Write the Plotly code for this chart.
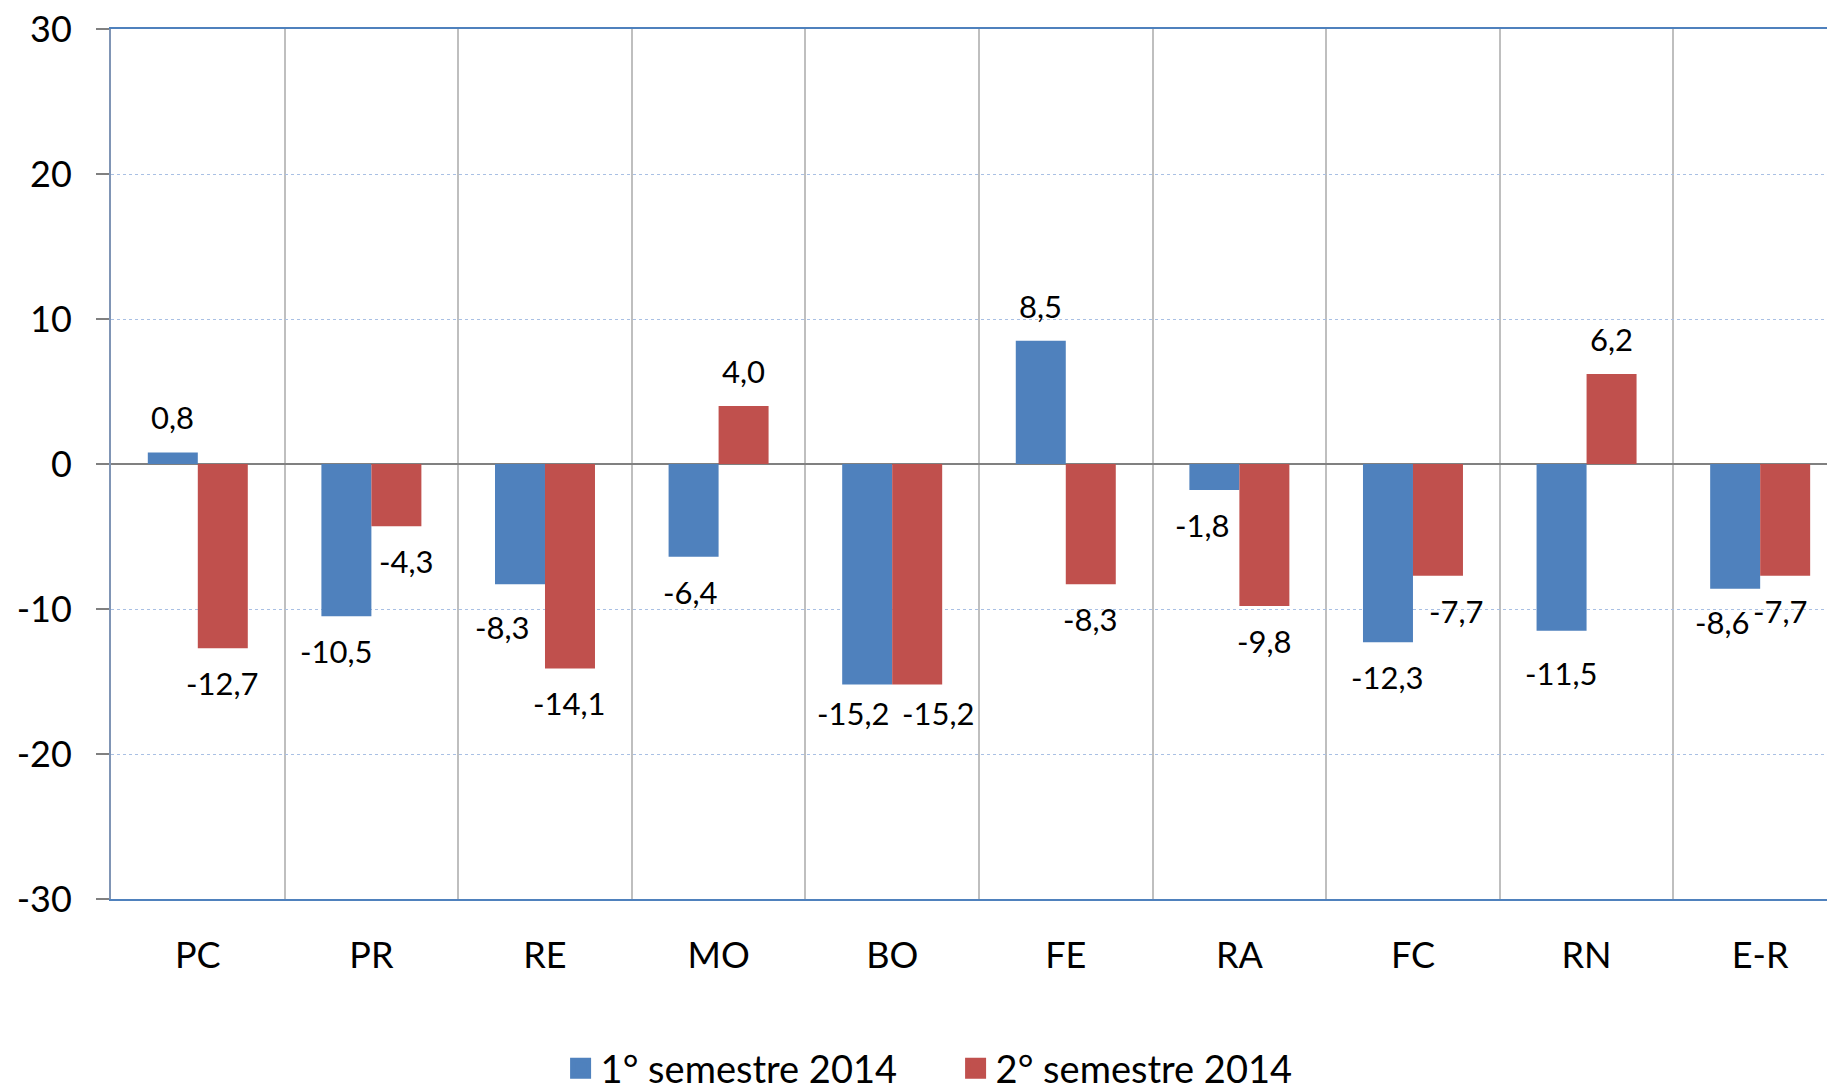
import plotly.graph_objects as go

categories = ["PC", "PR", "RE", "MO", "BO", "FE", "RA", "FC", "RN", "E-R"]
sem1_values = [0.8, -10.5, -8.3, -6.4, -15.2, 8.5, -1.8, -12.3, -11.5, -8.6]
sem2_values = [-12.7, -4.3, -14.1, 4.0, -15.2, -8.3, -9.8, -7.7, 6.2, -7.7]
series_names = ["1° semestre 2014", "2° semestre 2014"]
y_ticks = [-30, -20, -10, 0, 10, 20, 30]

BLUE = "#4F81BD"
RED = "#C0504D"
FONT = "Lato"

# label nudges (px) to mimic the reference's label placement: (series, index) -> (dx, dy)
nudges = {
    (0, 1): (-10, 0), (1, 1): (10, 0),
    (0, 2): (-17, -8),
    (0, 3): (-3, 0),
    (0, 4): (-14, 6), (1, 4): (21, 6),
    (0, 6): (-12, 0),
    (1, 7): (19, 0),
    (0, 8): (0, -7),
    (0, 9): (-13, 2), (1, 9): (-5, 0),
}

bargap = 0.424
half = (1 - bargap) / 4

fig = go.Figure()
for s, (vals, col) in enumerate([(sem1_values, BLUE), (sem2_values, RED)]):
    fig.add_trace(go.Bar(x=categories, y=vals, name=series_names[s], marker_color=col,
                         marker_line_width=0, showlegend=False))

# legend entries with larger square symbols
for name, col in zip(series_names, [BLUE, RED]):
    fig.add_trace(go.Scatter(x=[None], y=[None], mode="markers", name=name,
                             marker=dict(symbol="square", size=16, color=col,
                                         line=dict(color=col, width=7))))

annotations = []
for s, vals in enumerate([sem1_values, sem2_values]):
    for i, v in enumerate(vals):
        dx, dy = nudges.get((s, i), (0, 0))
        base = 35 if v >= 0 else -35
        annotations.append(dict(
            x=i + (-half if s == 0 else half), y=v, xref="x", yref="y",
            text=f"{v:.1f}".replace(".", ","), showarrow=False,
            xshift=dx, yshift=base + dy, yanchor="middle",
            font=dict(family=FONT, size=31, color="black")))

fig.update_layout(
    width=1827, height=1090,
    margin=dict(l=111, r=0, t=29, b=191, autoexpand=False),
    plot_bgcolor="white", paper_bgcolor="white",
    bargap=bargap, bargroupgap=0, barmode="group",
    font=dict(family=FONT, color="black"),
    annotations=annotations,
    legend=dict(orientation="h", x=0.262, y=-0.195, xanchor="left", yanchor="middle",
                font=dict(family=FONT, size=38, color="black"),
                entrywidth=350, entrywidthmode="pixels", bgcolor="rgba(0,0,0,0)",
                itemsizing="trace"),
)

fig.update_xaxes(
    range=[-0.5, 9.385], tickson="boundaries", ticks="",
    showgrid=True, gridcolor="#BFBFBF", gridwidth=2,
    showline=True, linecolor=BLUE, linewidth=2, mirror=True,
    tickfont=dict(family=FONT, size=36, color="black"),
    ticklabelstandoff=24,
)
fig.update_yaxes(
    range=[-30, 30], tickvals=y_ticks, ticktext=[str(t) for t in y_ticks],
    showgrid=True, gridcolor="#A9C0E4", gridwidth=1, griddash="dot",
    zeroline=True, zerolinecolor="#808080", zerolinewidth=2,
    showline=True, linecolor="#8095B5", linewidth=2,
    ticks="outside", ticklen=13, tickcolor="#808080", tickwidth=2,
    tickfont=dict(family=FONT, size=36, color="black"),
    ticklabelstandoff=17, ticklabeloverflow="allow",
)

fig.write_html("out.html",
               config={"displayModeBar": False},
               post_script="document.body.style.margin='0px';document.body.style.overflow='hidden';")
